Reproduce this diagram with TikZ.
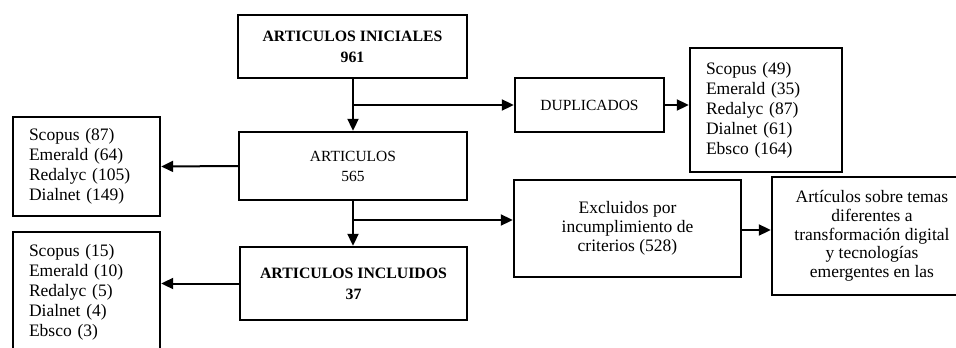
\documentclass[tikz,border=0pt]{standalone}
\usepackage{fontspec}
\setmainfont{Liberation Serif}
\usetikzlibrary{arrows.meta}
\begin{document}
\begin{tikzpicture}[x=1pt,y=-1pt,
  box/.style={draw=black,line width=2.4pt,inner sep=0pt,align=center},
  listbox/.style={draw=black,line width=2.4pt,inner xsep=16pt,inner ysep=0pt,align=left,
     font=\fontsize{17.5}{20}\selectfont},
  capsbold/.style={font=\fontsize{15.8}{21}\selectfont\bfseries},
  capsreg/.style={font=\fontsize{15.5}{20}\selectfont},
  lowertext/.style={font=\fontsize{17.5}{19}\selectfont},
  conn/.style={line width=2pt,-{Triangle[length=12pt,width=11pt]}},
  plain/.style={line width=2pt}
]
\useasboundingbox (0,0) rectangle (956,348);
\clip (0,0) rectangle (956,348);

\node[box,capsbold,minimum width=229,minimum height=63] (ini) at (352.5,46.5)
  {ARTICULOS INICIALES\\961};
\node[box,capsreg,minimum width=228,minimum height=68] (art) at (353,166)
  {ARTICULOS\\565};
\node[box,capsbold,minimum width=227,minimum height=73] (inc) at (353.5,283.5)
  {ARTICULOS INCLUIDOS\\37};
\node[box,capsreg,minimum width=149,minimum height=54] (dup) at (589.5,105)
  {DUPLICADOS};
\node[listbox,text width=120,minimum height=124] (s49) at (766,110)
  {Scopus (49)\\Emerald (35)\\Redalyc (87)\\Dialnet (61)\\Ebsco (164)};
\node[listbox,text width=115,minimum height=99] (s87) at (86.5,166.5)
  {Scopus (87)\\Emerald (64)\\Redalyc (105)\\Dialnet (149)};
\node[listbox,text width=115,inner ysep=12pt,anchor=north] (s15) at (86.5,231)
  {Scopus (15)\\Emerald (10)\\Redalyc (5)\\Dialnet (4)\\Ebsco (3)};
\node[box,lowertext,minimum width=227,minimum height=97] (exc) at (627.5,228.5)
  {Excluidos por\\incumplimiento de\\criterios (528)};
\node[box,font=\fontsize{17.5}{18.75}\selectfont,minimum width=200,minimum height=118] (tem) at (872,236)
  {Artículos sobre temas\\diferentes a\\transformación digital\\y tecnologías\\emergentes en las};

\coordinate (b1) at (353,105);
\coordinate (b2) at (353,220);
\draw[plain] (ini.south -| b1) -- (b1);
\draw[conn] (b1) -- (art.north -| b1);
\draw[conn] (b1) -- (dup.west);
\draw[conn] (dup.east) -- (dup.east -| s49.west);
\draw[conn] (art.west) -- (s87.east);
\draw[plain] (art.south -| b2) -- (b2);
\draw[conn] (b2) -- (inc.north -| b2);
\draw[conn] (b2) -- (b2 -| exc.west);
\coordinate (b3) at (741,230);
\draw[conn] (b3 -| exc.east) -- (b3 -| tem.west);
\draw[conn] (inc.west) -- (inc.west -| s15.east);
\end{tikzpicture}
\end{document}
